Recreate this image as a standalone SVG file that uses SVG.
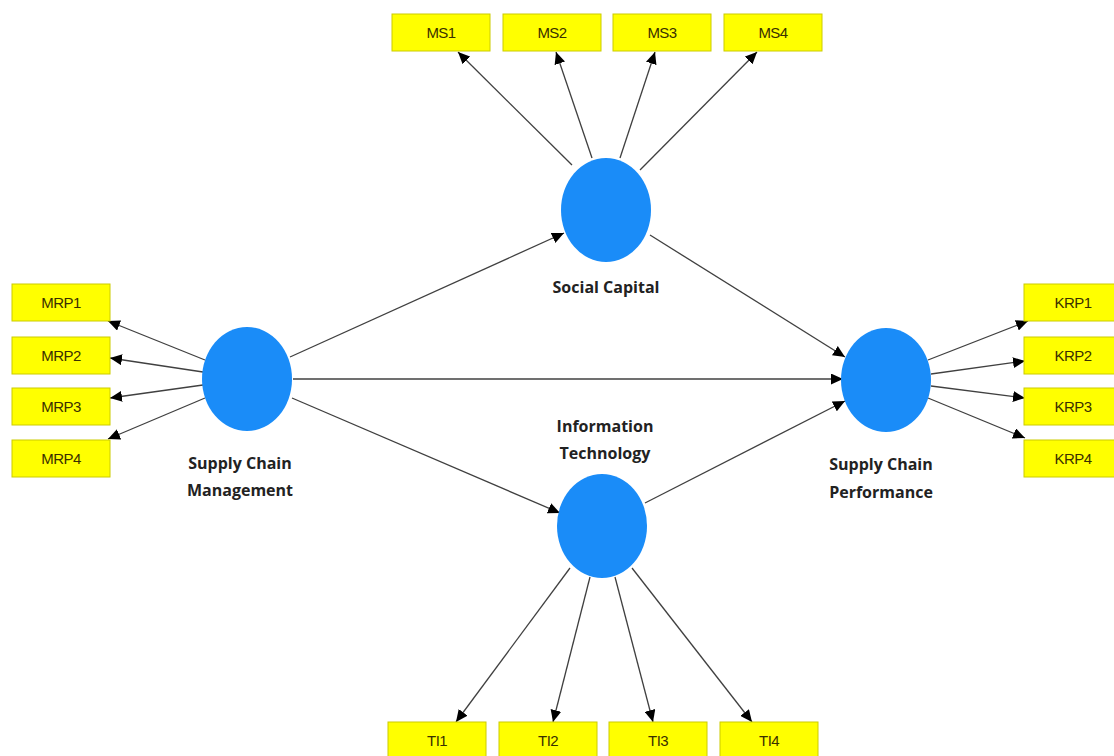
<svg xmlns="http://www.w3.org/2000/svg" width="1114" height="756" viewBox="0 0 1114 756">
<style>
.box{fill:#ffff00;stroke:#cccc00;stroke-width:1}
.bt{font-family:"Liberation Sans",Arial,sans-serif;font-size:15px;fill:#3a3000;text-anchor:middle;letter-spacing:-0.6px}
.lv{fill:#1a8cf8}
.lt{font-family:"Open Sans","Liberation Sans",sans-serif;font-weight:bold;font-size:16px;fill:#222;text-anchor:middle}
.c line{stroke:#404040;stroke-width:1.3;marker-end:url(#ah)}
</style>
<defs>
<marker id="ah" markerUnits="userSpaceOnUse" markerWidth="13" markerHeight="11" refX="12" refY="5.5" orient="auto">
<path d="M0,0 L12,5.5 L0,11 z" fill="#000"/>
</marker>
</defs>
<rect width="1114" height="756" fill="#fff"/>
<g class="c" id="connectors">
<line x1="572" y1="165" x2="458" y2="52"/>
<line x1="592" y1="158" x2="556" y2="52"/>
<line x1="620" y1="158" x2="655" y2="52"/>
<line x1="640" y1="170" x2="757" y2="52"/>
<line x1="205" y1="360" x2="108" y2="321"/>
<line x1="203" y1="372" x2="110" y2="358"/>
<line x1="203" y1="385" x2="110" y2="398"/>
<line x1="205" y1="398" x2="108" y2="439"/>
<line x1="290" y1="357" x2="564" y2="233"/>
<line x1="293" y1="379" x2="843" y2="379"/>
<line x1="292" y1="398" x2="560" y2="513"/>
<line x1="650" y1="235" x2="845" y2="357"/>
<line x1="645" y1="503" x2="845" y2="401"/>
<line x1="928" y1="360" x2="1028" y2="321"/>
<line x1="931" y1="374" x2="1025" y2="361"/>
<line x1="931" y1="386" x2="1025" y2="398"/>
<line x1="928" y1="398" x2="1025" y2="438"/>
<line x1="570" y1="568" x2="456" y2="722"/>
<line x1="590" y1="577" x2="553" y2="722"/>
<line x1="615" y1="577" x2="653" y2="722"/>
<line x1="632" y1="568" x2="752" y2="722"/>
</g>
<g id="SC"><ellipse class="lv" cx="606" cy="210" rx="45" ry="52"/><text class="lt" x="606" y="293">Social Capital</text></g>
<g id="SCM"><ellipse class="lv" cx="247" cy="379" rx="45" ry="52"/><text class="lt" x="240" y="469">Supply Chain</text><text class="lt" x="240" y="496">Management</text></g>
<g id="SCP"><ellipse class="lv" cx="886" cy="380" rx="45" ry="52"/><text class="lt" x="881" y="470">Supply Chain</text><text class="lt" x="881" y="498">Performance</text></g>
<g id="IT"><ellipse class="lv" cx="602" cy="526" rx="45" ry="52"/><text class="lt" x="605" y="432">Information</text><text class="lt" x="605" y="459">Technology</text></g>
<g id="MS1"><rect class="box" x="392" y="14" width="98" height="37"/><text class="bt" x="441" y="38">MS1</text></g>
<g id="MS2"><rect class="box" x="503" y="14" width="98" height="37"/><text class="bt" x="552" y="38">MS2</text></g>
<g id="MS3"><rect class="box" x="613" y="14" width="98" height="37"/><text class="bt" x="662" y="38">MS3</text></g>
<g id="MS4"><rect class="box" x="724" y="14" width="98" height="37"/><text class="bt" x="773" y="38">MS4</text></g>
<g id="MRP1"><rect class="box" x="12" y="284" width="98" height="37"/><text class="bt" x="61" y="308">MRP1</text></g>
<g id="MRP2"><rect class="box" x="12" y="337" width="98" height="37"/><text class="bt" x="61" y="361">MRP2</text></g>
<g id="MRP3"><rect class="box" x="12" y="388" width="98" height="37"/><text class="bt" x="61" y="412">MRP3</text></g>
<g id="MRP4"><rect class="box" x="12" y="440" width="98" height="37"/><text class="bt" x="61" y="464">MRP4</text></g>
<g id="KRP1"><rect class="box" x="1024" y="284" width="98" height="37"/><text class="bt" x="1073" y="308">KRP1</text></g>
<g id="KRP2"><rect class="box" x="1024" y="337" width="98" height="37"/><text class="bt" x="1073" y="361">KRP2</text></g>
<g id="KRP3"><rect class="box" x="1024" y="388" width="98" height="37"/><text class="bt" x="1073" y="412">KRP3</text></g>
<g id="KRP4"><rect class="box" x="1024" y="440" width="98" height="37"/><text class="bt" x="1073" y="464">KRP4</text></g>
<g id="TI1"><rect class="box" x="388" y="722" width="98" height="40"/><text class="bt" x="437" y="746">TI1</text></g>
<g id="TI2"><rect class="box" x="499" y="722" width="98" height="40"/><text class="bt" x="548" y="746">TI2</text></g>
<g id="TI3"><rect class="box" x="609" y="722" width="98" height="40"/><text class="bt" x="658" y="746">TI3</text></g>
<g id="TI4"><rect class="box" x="720" y="722" width="98" height="40"/><text class="bt" x="769" y="746">TI4</text></g>
</svg>
